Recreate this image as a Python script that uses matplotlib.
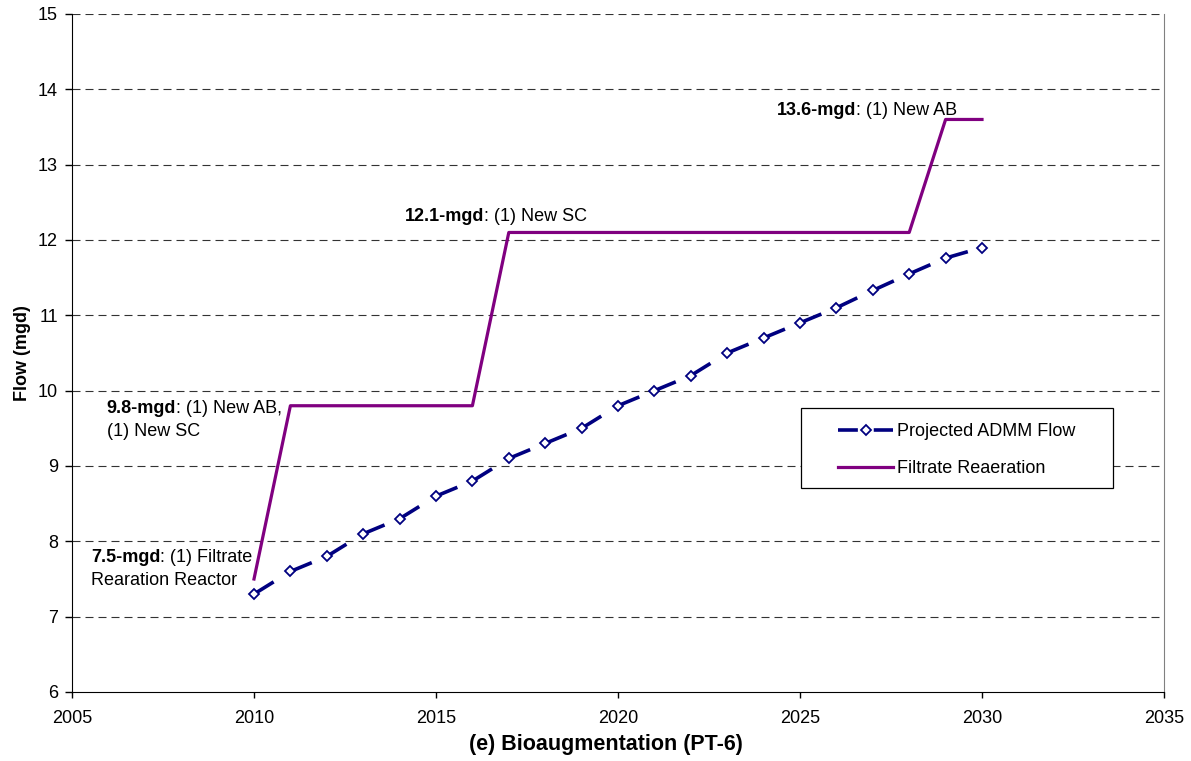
import matplotlib
matplotlib.use("Agg")
import matplotlib.pyplot as plt
from matplotlib.lines import Line2D
from matplotlib.patches import Rectangle

plt.rcParams['font.family'] = ['Liberation Sans', 'DejaVu Sans']

years_adm = [2010, 2011, 2012, 2013, 2014, 2015, 2016, 2017, 2018, 2019, 2020,
             2021, 2022, 2023, 2024, 2025, 2026, 2027, 2028, 2029, 2030]
flow_adm = [7.3, 7.6, 7.8, 8.1, 8.3, 8.6, 8.8, 9.1, 9.3, 9.5, 9.8,
            10.0, 10.2, 10.5, 10.7, 10.9, 11.1, 11.33, 11.55, 11.76, 11.9]
years_fr = [2010, 2011, 2016, 2017, 2028, 2029, 2030]
flow_fr = [7.5, 9.8, 9.8, 12.1, 12.1, 13.6, 13.6]

annotations = [
    (2005.95, 9.70, "9.8-mgd", ": (1) New AB,", "(1) New SC"),
    (2005.52, 7.73, "7.5-mgd", ": (1) Filtrate", "Rearation Reactor"),
    (2014.15, 12.25, "12.1-mgd", ": (1) New SC", None),
    (2024.37, 13.66, "13.6-mgd", ": (1) New AB", None),
]

NAVY = '#000080'
PURPLE = '#800080'

W, H = 1191, 761
fig = plt.figure(figsize=(W / 100, H / 100), dpi=100)
ax = fig.add_axes([72 / W, 1 - 692 / H, (1164 - 72) / W, (692 - 14) / H])

ax.set_xlim(2005, 2035)
ax.set_ylim(6, 15)
ax.set_xticks(range(2005, 2036, 5))
ax.set_yticks(range(6, 16))

for y in range(7, 16):
    ax.axhline(y, color='#333333', lw=0.8, ls=(0, (7.2, 4.5)), zorder=1)

# Projected ADMM flow: each segment starts with a long dash at its point
LWB = 2.6
LWP = 2.3
for i in range(len(years_adm) - 1):
    ax.plot(years_adm[i:i + 2], flow_adm[i:i + 2], color=NAVY, lw=LWB,
            ls=(0, (6.4, 40)), solid_capstyle='butt', dash_capstyle='butt', zorder=3)
ax.plot(years_adm, flow_adm, ls='none', marker='D', markersize=5,
        markerfacecolor='white', markeredgecolor=NAVY, markeredgewidth=1.3, zorder=4)

ax.plot(years_fr, flow_fr, color=PURPLE, lw=LWP, zorder=3)

ax.spines['top'].set_visible(False)
ax.spines['right'].set_color('#808080')
ax.spines['left'].set_color('black')
ax.spines['bottom'].set_color('black')
ax.tick_params(axis='both', labelsize=13, direction='out', width=1)
ax.tick_params(axis='x', length=4, pad=9)
ax.tick_params(axis='y', length=5, pad=5)

ax.set_ylabel('Flow (mgd)', fontsize=13, fontweight='bold', labelpad=5)
ax.set_xlabel('(e) Bioaugmentation (PT-6)', fontsize=15.5, fontweight='bold', labelpad=5)
ax.xaxis.label.set_x(0.489)

fs = 13
for x, y, b, rest, line2 in annotations:
    t = ax.text(x, y, b, fontsize=fs, fontweight='bold', va='baseline', ha='left', zorder=4)
    ax.annotate(rest, xy=(1, 0), xycoords=t, va='bottom', ha='left', fontsize=fs, zorder=4)
    if line2:
        ax.annotate(line2, xy=(0, 0), xycoords=t, xytext=(0, -16.6), textcoords='offset points',
                    va='bottom', ha='left', fontsize=fs, zorder=4)

# legend frame and legend
fx0, fx1, fy0, fy1 = 801, 1113, 408, 488
axw, axh = 1164 - 72, 692 - 14
rx0 = (fx0 - 72) / axw
ry0 = (692 - fy1) / axh
rw = (fx1 - fx0) / axw
rh = (fy1 - fy0) / axh
ax.add_patch(Rectangle((rx0, ry0), rw, rh, transform=ax.transAxes, facecolor='white',
                       edgecolor='black', lw=0.9, zorder=5))
h1 = Line2D([], [], color=NAVY, lw=LWB, ls=(0, (5.5, 4.4)), marker='D', markersize=5,
            markerfacecolor='white', markeredgecolor=NAVY, markeredgewidth=1.3)
h2 = Line2D([], [], color=PURPLE, lw=LWP)
leg = ax.legend([h1, h2], ['Projected ADMM Flow', 'Filtrate Reaeration'],
                loc='center', bbox_to_anchor=(rx0 + rw / 2, ry0 + rh / 2 - 0.003),
                fontsize=13, frameon=False, handlelength=3.05, handletextpad=0.22,
                labelspacing=1.1, borderpad=0, borderaxespad=0, numpoints=1)
leg.set_zorder(6)

fig.savefig('out.png', dpi=100)
